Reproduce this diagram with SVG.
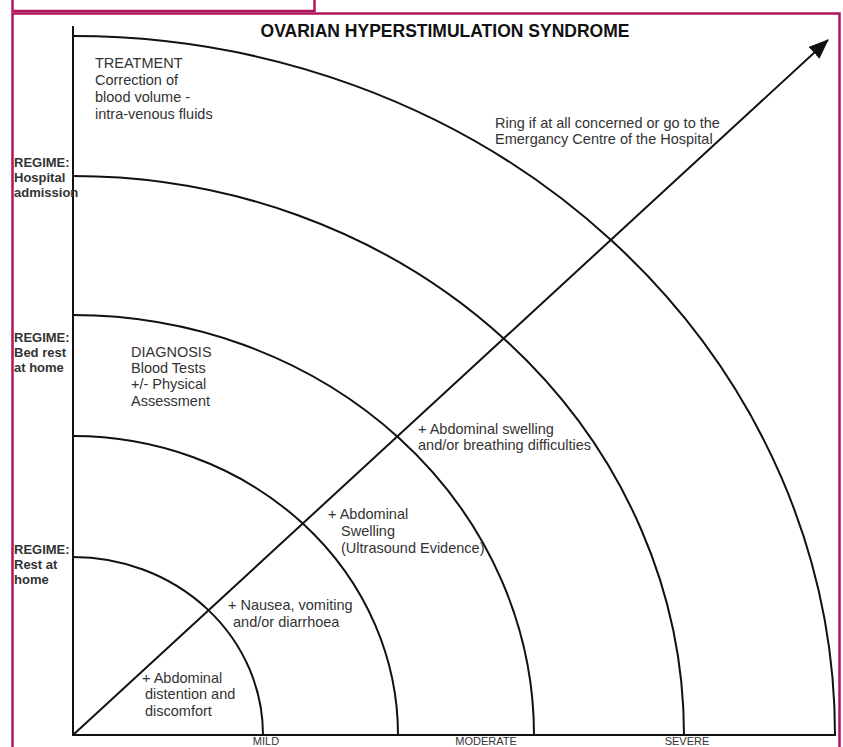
<svg xmlns="http://www.w3.org/2000/svg" width="843" height="747" viewBox="0 0 843 747">
<style>
.frame{fill:none;stroke:#b0165e;stroke-width:2.5}
.ln{fill:none;stroke:#111;stroke-width:2}
.t{font-family:"Liberation Sans",Arial,sans-serif;font-size:14.5px;fill:#333}
.r{font-family:"Liberation Sans",Arial,sans-serif;font-size:13px;font-weight:bold;fill:#333}
.ttl{font-family:"Liberation Sans",Arial,sans-serif;font-size:17.5px;font-weight:bold;fill:#111}
.ax{font-family:"Liberation Sans",Arial,sans-serif;font-size:11px;fill:#333}
</style>
<defs>
<marker id="ah2" viewBox="0 0 20 16" refX="19" refY="8" markerWidth="20" markerHeight="16" orient="auto" markerUnits="userSpaceOnUse">
<path d="M0,0 L20,8 L0,16 z" fill="#111"/>
</marker>
</defs>
<rect width="843" height="747" fill="#fff"/>
<g id="frame">
<rect class="frame" x="12.5" y="-5" width="302" height="16"/>
<rect class="frame" x="12.5" y="13.5" width="827" height="745"/>
</g>
<text class="ttl" x="445" y="37" text-anchor="middle">OVARIAN HYPERSTIMULATION SYNDROME</text>
<g id="connectors">
<line class="ln" x1="73" y1="26" x2="73" y2="735"/>
<line class="ln" x1="72" y1="735" x2="836" y2="735"/>
<path class="ln" d="M73 557 A190 178 0 0 1 263 735"/>
<path class="ln" d="M73 436 A325 299 0 0 1 398 735"/>
<path class="ln" d="M73 315 A461 420 0 0 1 534 735"/>
<path class="ln" d="M73 176 A611 559 0 0 1 684 735"/>
<path class="ln" d="M73 36 A762 699 0 0 1 835 735"/>
<line class="ln" x1="73" y1="735" x2="828" y2="40" marker-end="url(#ah2)"/>
</g>
<g id="treatment">
<text class="t" x="95" y="68">TREATMENT</text>
<text class="t" x="95" y="85">Correction of</text>
<text class="t" x="95" y="102">blood volume -</text>
<text class="t" x="95" y="119">intra-venous fluids</text>
</g>
<g id="ring">
<text class="t" x="495" y="128">Ring if at all concerned or go to the</text>
<text class="t" x="495" y="144">Emergancy Centre of the Hospital</text>
</g>
<g id="diagnosis">
<text class="t" x="131" y="357">DIAGNOSIS</text>
<text class="t" x="131" y="373">Blood Tests</text>
<text class="t" x="131" y="389">+/- Physical</text>
<text class="t" x="131" y="406">Assessment</text>
</g>
<g id="severe-symptom">
<text class="t" x="418" y="434">+ Abdominal swelling</text>
<text class="t" x="418" y="450">and/or breathing difficulties</text>
</g>
<g id="moderate-symptom">
<text class="t" x="328" y="519">+ Abdominal</text>
<text class="t" x="341" y="536">Swelling</text>
<text class="t" x="341" y="553">(Ultrasound Evidence)</text>
</g>
<g id="nausea">
<text class="t" x="228" y="610">+ Nausea, vomiting</text>
<text class="t" x="233" y="627">and/or diarrhoea</text>
</g>
<g id="mild-symptom">
<text class="t" x="142" y="683">+ Abdominal</text>
<text class="t" x="145" y="699">distention and</text>
<text class="t" x="145" y="716">discomfort</text>
</g>
<g id="regime-hospital">
<text class="r" x="14" y="167">REGIME:</text>
<text class="r" x="14" y="182">Hospital</text>
<text class="r" x="14" y="197">admission</text>
</g>
<g id="regime-bed">
<text class="r" x="14" y="342">REGIME:</text>
<text class="r" x="14" y="357">Bed rest</text>
<text class="r" x="14" y="372">at home</text>
</g>
<g id="regime-rest">
<text class="r" x="14" y="554">REGIME:</text>
<text class="r" x="14" y="569">Rest at</text>
<text class="r" x="14" y="584">home</text>
</g>
<g id="axis-labels">
<text class="ax" x="266" y="744.5" text-anchor="middle">MILD</text>
<text class="ax" x="486" y="744.5" text-anchor="middle">MODERATE</text>
<text class="ax" x="687" y="744.5" text-anchor="middle">SEVERE</text>
</g>
</svg>
